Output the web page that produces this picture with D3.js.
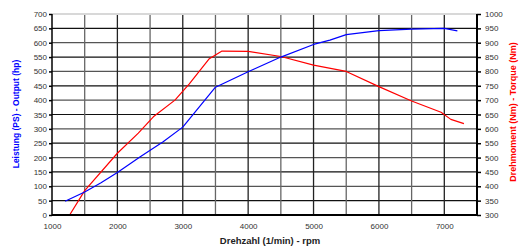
<!DOCTYPE html>
<html><head><meta charset="utf-8">
<script src="https://cdn.jsdelivr.net/npm/d3@7"></script>
<style>body{margin:0;background:#fff}svg{display:block}text{font-family:"Liberation Sans",Arial,sans-serif}</style>
</head><body><div id="chart"></div>
<script>
const powerRpm   = [1200, 1500, 1750, 2000, 2350, 2700, 3000, 3500, 4000, 4500, 5000, 5250, 5500, 6000, 6500, 7000, 7200];
const powerHp    = [48, 80, 112, 148, 203, 255, 306, 445, 499, 550, 594, 609, 628, 642, 647, 650, 641];
const torqueRpm  = [1270, 1500, 2000, 2320, 2550, 2880, 3100, 3400, 3600, 4000, 4500, 5000, 5500, 6000, 6500, 6950, 7100, 7300];
const torqueNm   = [300, 385, 515, 585, 642, 700, 757, 843, 871, 870, 852, 822, 800, 747, 697, 658, 633, 618];
const xTicks     = [1000, 2000, 3000, 4000, 5000, 6000, 7000];
const xTitle = "Drehzahl (1/min) - rpm";
const yLeftTitle = "Leistung (PS) - Output (hp)";
const yRightTitle = "Drehmoment (Nm) - Torque (Nm)";

const W = 520, H = 248;
const L = 52, R = 477, T = 14, B = 215;
const svg = d3.select("#chart").append("svg").attr("width", W).attr("height", H);

const x = d3.scaleLinear().domain([1000, 7500]).range([L, R]);
const yL = d3.scaleLinear().domain([0, 700]).range([B, T]);
const yR = d3.scaleLinear().domain([300, 1000]).range([B, T]);

// grid
const g = svg.append("g");
g.selectAll("line.h").data(d3.range(50, 700, 50)).join("line")
  .attr("x1", L).attr("x2", R).attr("y1", d => yL(d)).attr("y2", d => yL(d))
  .attr("stroke", (d, i) => i % 2 ? "#555" : "#111").attr("stroke-width", 1.2);
g.selectAll("line.v").data(d3.range(1500, 7500, 500)).join("line")
  .attr("y1", T).attr("y2", B).attr("x1", d => x(d)).attr("x2", d => x(d))
  .attr("stroke", (d, i) => i % 2 ? "#222" : "#666").attr("stroke-width", 1.3);
// top border
svg.append("line").attr("x1", L).attr("x2", R).attr("y1", T).attr("y2", T)
  .attr("stroke", "#d8d8d8").attr("stroke-width", 2);

// curves
const lineP = d3.line().x((d, i) => x(powerRpm[i])).y(d => yL(d));
const lineT = d3.line().x((d, i) => x(torqueRpm[i])).y(d => yR(d));
svg.append("path").attr("d", lineT(torqueNm)).attr("fill", "none").attr("stroke", "#ff0000").attr("stroke-width", 1.2).attr("stroke-linejoin", "round");
svg.append("path").attr("d", lineP(powerHp)).attr("fill", "none").attr("stroke", "#0000ff").attr("stroke-width", 1.2).attr("stroke-linejoin", "round");

// axes
const axL = d3.axisLeft(yL).tickValues(d3.range(0, 701, 50)).tickSize(3).tickPadding(2).tickFormat(d3.format("d"));
const axR = d3.axisRight(yR).tickValues(d3.range(300, 1001, 50)).tickSize(4).tickPadding(4).tickFormat(d3.format("d"));
const axB = d3.axisBottom(x).tickValues(xTicks).tickSize(0).tickPadding(8).tickFormat(d3.format("d"));

function style(sel, w) {
  sel.select(".domain").attr("stroke", "#000").attr("stroke-width", w);
  sel.selectAll(".tick line").attr("stroke", "#000").attr("stroke-width", 1.5);
  sel.selectAll(".tick text").attr("fill", "#333").style("font-size", "8px");
}
svg.append("g").attr("transform", `translate(${L},0)`).call(axL).call(s => style(s, 1.5)).call(s => s.select(".domain").attr("d", `M0,${T}V${B}`));
svg.append("g").attr("transform", `translate(${R},0)`).call(axR).call(s => style(s, 2)).call(s => s.select(".domain").attr("d", `M0,${T}V${B}`));
svg.append("g").attr("transform", `translate(0,${B})`).call(axB).call(s => style(s, 2)).call(s => s.select(".domain").attr("d", `M${L},0H${R}`));

// titles
svg.append("text").attr("x", 270).attr("y", 244).attr("text-anchor", "middle")
  .style("font-size", "9.5px").style("font-weight", "bold").attr("fill", "#222").text(xTitle);
svg.append("text").attr("transform", `translate(19,114) rotate(-90)`).attr("text-anchor", "middle")
  .style("font-size", "8.5px").style("font-weight", "bold").attr("fill", "#0000ff").text(yLeftTitle);
svg.append("text").attr("transform", `translate(516,112) rotate(-90)`).attr("text-anchor", "middle")
  .style("font-size", "9px").style("font-weight", "bold").attr("fill", "#ff0000").text(yRightTitle);
</script></body></html>
